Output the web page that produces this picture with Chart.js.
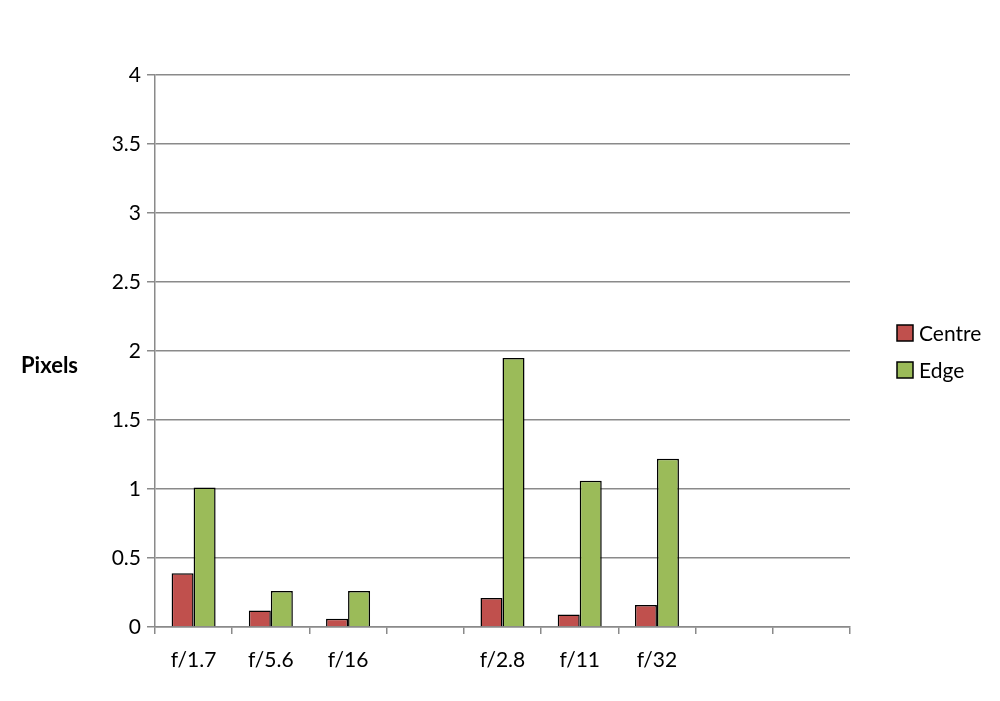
<!DOCTYPE html>
<html>
<head>
<meta charset="utf-8">
<script src="https://cdn.jsdelivr.net/npm/chart.js@4"></script>
<style>
  html,body{margin:0;padding:0;background:#fff;}
  #wrap{width:1000px;height:701px;}
</style>
</head>
<body>
<div id="wrap"><canvas id="chart" width="1000" height="701"></canvas></div>
<script>
const categories=['f/1.7','f/5.6','f/16','','f/2.8','f/11','f/32','',''];
const centre=[0.39,0.12,0.06,null,0.21,0.09,0.16,null,null];
const edge=[1.01,0.26,0.26,null,1.95,1.06,1.22,null,null];
const yTitle='Pixels';

const font='Lato, "Open Sans", sans-serif';

// "Pixels" label (horizontal) and the legend on the right, Excel style
const extrasPlugin={
  id:'extras',
  afterDraw(c){
    const a=c.chartArea, g=c.ctx;
    const mid=(a.top+a.bottom)/2;
    g.save();
    g.font='bold 22px '+font;
    g.fillStyle='#000';
    g.textBaseline='middle';
    g.textAlign='left';
    g.fillText(yTitle,21,mid+15);
    g.font='21px '+font;
    c.data.datasets.forEach(function(ds,i){
      const y=mid-18+i*37;
      g.fillStyle=ds.backgroundColor;
      g.fillRect(897,y-8,16,16);
      g.strokeStyle='#000';
      g.lineWidth=1.5;
      g.strokeRect(897,y-8,16,16);
      g.fillStyle='#000';
      g.fillText(ds.label,919,y+1);
    });
    g.restore();
  }
};

const ctx=document.getElementById('chart').getContext('2d');
const chart=new Chart(ctx,{
  type:'bar',
  data:{
    labels:categories,
    datasets:[
      {label:'Centre',data:centre,backgroundColor:'#C0504D',borderColor:'#000',borderWidth:1.5,borderSkipped:'bottom'},
      {label:'Edge',data:edge,backgroundColor:'#9BBB59',borderColor:'#000',borderWidth:1.5,borderSkipped:'bottom'}
    ]
  },
  plugins:[extrasPlugin],
  options:{
    responsive:false,
    animation:false,
    devicePixelRatio:1,
    layout:{autoPadding:false,padding:{left:75,top:75,right:150,bottom:0}},
    datasets:{bar:{categoryPercentage:0.57,barPercentage:1.0}},
    plugins:{
      legend:{display:false},
      tooltip:{enabled:false}
    },
    scales:{
      x:{
        afterFit(s){s.height=74;},
        grid:{drawOnChartArea:false,offset:true,tickLength:7,color:'#8a8a8a',lineWidth:1.5},
        border:{color:'#8a8a8a',width:1.5},
        ticks:{font:{family:font,size:21},color:'#000',padding:14,maxRotation:0,autoSkip:false}
      },
      y:{
        min:0,max:4,
        afterFit(s){s.width=80;},
        grid:{color:'#8a8a8a',lineWidth:1.5,tickLength:8},
        border:{color:'#8a8a8a',width:1.5},
        ticks:{stepSize:0.5,font:{family:font,size:21},color:'#000',padding:6,callback:v=>String(v)}
      }
    }
  }
});
</script>
</body>
</html>
